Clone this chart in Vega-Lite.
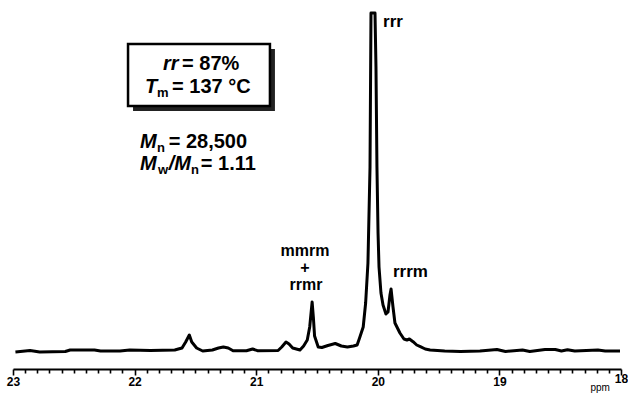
{
  "$schema": "https://vega.github.io/schema/vega-lite/v6.json",
  "width": 608,
  "height": 359,
  "autosize": "none",
  "padding": {"left": 13, "top": 10, "right": 7, "bottom": 24},
  "background": "white",
  "config": {"view": {"stroke": null}, "font": "Liberation Sans"},
  "datasets": {
    "spectrum": [
      {"ppm": 22.98, "I": -1}, {"ppm": 22.86, "I": 0.5}, {"ppm": 22.78, "I": -1}, {"ppm": 22.57, "I": -0.5},
      {"ppm": 22.53, "I": 1}, {"ppm": 22.33, "I": 1}, {"ppm": 22.28, "I": 0}, {"ppm": 22.12, "I": 0},
      {"ppm": 22.04, "I": 1}, {"ppm": 21.87, "I": 0.5}, {"ppm": 21.67, "I": 1}, {"ppm": 21.61, "I": 3},
      {"ppm": 21.58, "I": 9}, {"ppm": 21.55, "I": 16}, {"ppm": 21.53, "I": 9}, {"ppm": 21.49, "I": 3},
      {"ppm": 21.44, "I": 0}, {"ppm": 21.36, "I": 1}, {"ppm": 21.31, "I": 3}, {"ppm": 21.27, "I": 4},
      {"ppm": 21.23, "I": 3}, {"ppm": 21.19, "I": 0.3}, {"ppm": 21.08, "I": 0.3}, {"ppm": 21.03, "I": 2},
      {"ppm": 20.99, "I": 0.3}, {"ppm": 20.82, "I": 0.5}, {"ppm": 20.79, "I": 4}, {"ppm": 20.755, "I": 9},
      {"ppm": 20.73, "I": 7}, {"ppm": 20.70, "I": 3}, {"ppm": 20.64, "I": 1}, {"ppm": 20.61, "I": 5},
      {"ppm": 20.58, "I": 11}, {"ppm": 20.56, "I": 24}, {"ppm": 20.54, "I": 49}, {"ppm": 20.53, "I": 34},
      {"ppm": 20.52, "I": 15}, {"ppm": 20.49, "I": 4}, {"ppm": 20.46, "I": 3.5}, {"ppm": 20.41, "I": 5.5},
      {"ppm": 20.35, "I": 7.5}, {"ppm": 20.30, "I": 5}, {"ppm": 20.25, "I": 4}, {"ppm": 20.20, "I": 5},
      {"ppm": 20.17, "I": 6}, {"ppm": 20.15, "I": 13}, {"ppm": 20.12, "I": 24}, {"ppm": 20.10, "I": 48},
      {"ppm": 20.081, "I": 88}, {"ppm": 20.064, "I": 184}, {"ppm": 20.056, "I": 338},
      {"ppm": 20.023, "I": 338}, {"ppm": 20.015, "I": 284}, {"ppm": 20.007, "I": 184}, {"ppm": 19.998, "I": 118},
      {"ppm": 19.990, "I": 84}, {"ppm": 19.974, "I": 58}, {"ppm": 19.957, "I": 46}, {"ppm": 19.933, "I": 37},
      {"ppm": 19.916, "I": 39}, {"ppm": 19.900, "I": 56}, {"ppm": 19.891, "I": 62}, {"ppm": 19.875, "I": 44},
      {"ppm": 19.859, "I": 28}, {"ppm": 19.818, "I": 18}, {"ppm": 19.785, "I": 12}, {"ppm": 19.76, "I": 11},
      {"ppm": 19.74, "I": 12}, {"ppm": 19.71, "I": 9.3}, {"ppm": 19.68, "I": 6}, {"ppm": 19.65, "I": 4.3},
      {"ppm": 19.61, "I": 2}, {"ppm": 19.57, "I": 1}, {"ppm": 19.45, "I": 0}, {"ppm": 19.32, "I": -0.5},
      {"ppm": 19.16, "I": 0}, {"ppm": 19.02, "I": 1.5}, {"ppm": 18.95, "I": -0.5}, {"ppm": 18.81, "I": 1},
      {"ppm": 18.75, "I": -0.5}, {"ppm": 18.625, "I": 1.5}, {"ppm": 18.54, "I": 1.5}, {"ppm": 18.49, "I": 0},
      {"ppm": 18.44, "I": 1.2}, {"ppm": 18.38, "I": 0}, {"ppm": 18.19, "I": 1}, {"ppm": 18.13, "I": 0},
      {"ppm": 18.008, "I": 0}
    ],
    "box": [{"ppm": 22.054, "ppm2": 20.887, "I": 307, "I2": 245}],
    "peaklabelsLeft": [
      {"ppm": 19.957, "I": 324, "label": "rrr"},
      {"ppm": 19.875, "I": 74, "label": "rrrm"}
    ],
    "peaklabelsCenter": [
      {"ppm": 20.599, "I": 95, "label": "mmrm"},
      {"ppm": 20.599, "I": 78, "label": "+"},
      {"ppm": 20.59, "I": 61, "label": "rrmr"}
    ],
    "italic": [
      {"ppm": 21.766, "I": 281, "label": "rr"},
      {"ppm": 21.914, "I": 258, "label": "T"},
      {"ppm": 21.956, "I": 203, "label": "M"},
      {"ppm": 21.956, "I": 181, "label": "M"},
      {"ppm": 21.72, "I": 181, "label": "/M"}
    ],
    "sub": [
      {"ppm": 21.816, "I": 254, "label": "m"},
      {"ppm": 21.816, "I": 199, "label": "n"},
      {"ppm": 21.808, "I": 177, "label": "w"},
      {"ppm": 21.536, "I": 177, "label": "n"}
    ],
    "regular": [
      {"ppm": 21.610, "I": 281, "label": "= 87%"},
      {"ppm": 21.692, "I": 258, "label": "= 137 °C"},
      {"ppm": 21.72, "I": 203, "label": "= 28,500"},
      {"ppm": 21.455, "I": 181, "label": "= 1.11"}
    ]
  },
  "encoding": {
    "x": {
      "field": "ppm", "type": "quantitative",
      "scale": {"domain": [18, 23], "reverse": true, "nice": false, "zero": false},
      "axis": {
        "values": [23, 22.9, 22.8, 22.7, 22.6, 22.5, 22.4, 22.3, 22.2, 22.1, 22, 21.9, 21.8, 21.7, 21.6, 21.5, 21.4, 21.3, 21.2, 21.1, 21, 20.9, 20.8, 20.7, 20.6, 20.5, 20.4, 20.3, 20.2, 20.1, 20, 19.9, 19.8, 19.7, 19.6, 19.5, 19.4, 19.3, 19.2, 19.1, 19, 18.9, 18.8, 18.7, 18.6, 18.5, 18.4, 18.3, 18.2, 18.1, 18],
        "tickCount": 200,
        "labelExpr": "datum.value % 1 === 0 ? datum.value : ''",
        "labelOverlap": false,
        "labelFlush": false,
        "grid": false,
        "domainColor": "black",
        "domainWidth": 2,
        "tickColor": "black",
        "tickWidth": 1.6,
        "tickSize": {"condition": {"test": "datum.value % 1 === 0", "value": 6}, "value": 4},
        "labelFont": "Liberation Sans",
        "labelFontWeight": "bold",
        "labelFontSize": 12,
        "labelColor": "black",
        "labelPadding": {"condition": {"test": "datum.value === 18", "value": -2}, "value": 1},
        "title": "ppm",
        "titleFont": "Liberation Sans",
        "titleFontSize": 10,
        "titleFontWeight": "normal",
        "titleColor": "black",
        "titleAnchor": null,
        "titleAlign": "left",
        "titleBaseline": "alphabetic",
        "titleX": 577,
        "titleY": 21
      }
    },
    "y": {
      "field": "I", "type": "quantitative",
      "scale": {"domain": [-18, 341], "nice": false, "zero": false},
      "axis": null
    }
  },
  "layer": [
    {
      "data": {"name": "spectrum"},
      "mark": {"type": "line", "color": "black", "strokeWidth": 3, "strokeJoin": "round", "clip": true}
    },
    {
      "data": {"name": "box"},
      "mark": {"type": "rect", "fill": "#222", "xOffset": 5, "yOffset": 5, "x2Offset": 5, "y2Offset": 5},
      "encoding": {"x2": {"field": "ppm2"}, "y2": {"field": "I2"}}
    },
    {
      "data": {"name": "box"},
      "mark": {"type": "rect", "fill": "white", "stroke": "black", "strokeWidth": 2.5},
      "encoding": {"x2": {"field": "ppm2"}, "y2": {"field": "I2"}}
    },
    {
      "data": {"name": "peaklabelsLeft"},
      "mark": {"type": "text", "align": "left", "baseline": "alphabetic", "fontSize": 17, "fontWeight": "bold", "font": "Liberation Sans", "color": "black"},
      "encoding": {"text": {"field": "label"}}
    },
    {
      "data": {"name": "peaklabelsCenter"},
      "mark": {"type": "text", "align": "center", "baseline": "alphabetic", "fontSize": 16, "fontWeight": "bold", "font": "Liberation Sans", "color": "black"},
      "encoding": {"text": {"field": "label"}}
    },
    {
      "data": {"name": "italic"},
      "mark": {"type": "text", "align": "left", "baseline": "alphabetic", "fontSize": 20, "fontStyle": "italic", "fontWeight": "bold", "font": "Liberation Sans", "color": "black"},
      "encoding": {"text": {"field": "label"}}
    },
    {
      "data": {"name": "sub"},
      "mark": {"type": "text", "align": "left", "baseline": "alphabetic", "fontSize": 13, "fontWeight": "bold", "font": "Liberation Sans", "color": "black"},
      "encoding": {"text": {"field": "label"}}
    },
    {
      "data": {"name": "regular"},
      "mark": {"type": "text", "align": "left", "baseline": "alphabetic", "fontSize": 20, "fontWeight": "bold", "font": "Liberation Sans", "color": "black"},
      "encoding": {"text": {"field": "label"}}
    }
  ]
}
